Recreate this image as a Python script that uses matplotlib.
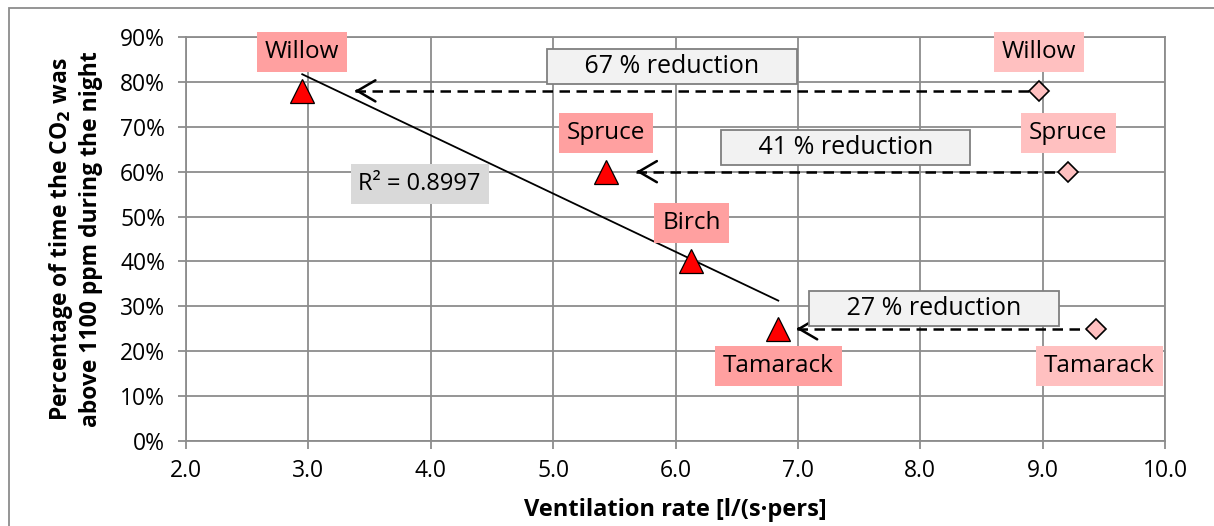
import numpy as np
import matplotlib
matplotlib.use("Agg")
import matplotlib.pyplot as plt
from matplotlib.patches import Rectangle

plt.rcParams['font.family'] = ['Open Sans', 'DejaVu Sans']

# ---------------- data ----------------
rooms = ["Willow", "Spruce", "Birch", "Tamarack"]
vent_before = [2.95, 5.43, 6.13, 6.84]        # l/(s*pers)
pct_before = [78, 60, 40, 25]                 # %
after_rooms = ["Willow", "Spruce", "Tamarack"]
vent_after = [8.97, 9.21, 9.44]
pct_after = [78, 60, 25]
reductions = ["67 % reduction", "41 % reduction", "27 % reduction"]
arrow_end_x = [3.38, 5.68, 6.99]
reduction_box_xy = [(5.97, 83.5), (7.39, 65.3), (8.11, 29.6)]
r2_text = "R² = 0.8997"
r2_xy = (3.91, 57.2)
x_ticks = [2.0, 3.0, 4.0, 5.0, 6.0, 7.0, 8.0, 9.0, 10.0]
y_ticks = [0, 10, 20, 30, 40, 50, 60, 70, 80, 90]

GRID = "#8c8c8c"
fig = plt.figure(figsize=(12.14, 5.26), dpi=100)
ax = fig.add_axes([186/1214, 1-441/526, (1165-186)/1214, (441-37)/526])

ax.set_xlim(2, 10)
ax.set_ylim(0, 90)
ax.set_xticks(x_ticks)
ax.set_xticklabels([f"{v:.1f}" for v in x_ticks])
ax.set_yticks(y_ticks)
ax.set_yticklabels([f"{v}%" for v in y_ticks])
ax.grid(True, color=GRID, lw=1.3)
ax.set_axisbelow(True)
for s in ax.spines.values():
    s.set_color(GRID)
    s.set_linewidth(1.3)
ax.tick_params(axis='both', colors=GRID, labelcolor='black', labelsize=16.5,
               length=6, width=1.3, direction='out')
ax.tick_params(axis='x', pad=7)
ax.tick_params(axis='y', pad=9)

ax.set_xlabel("Ventilation rate [l/(s·pers]", fontsize=17, fontweight='bold', labelpad=11)
ax.set_ylabel("Percentage of time the CO$_\\mathbf{2}$ was\nabove 1100 ppm during the night",
              fontsize=16.5, fontweight='bold', labelpad=12, linespacing=1.25)

# trend line
coef = np.polyfit(vent_before, pct_before, 1)
xs = np.array([min(vent_before), max(vent_before)])
ax.plot(xs, np.polyval(coef, xs), color='black', lw=1.3, zorder=3)

# arrows
for xa, ya, xe in zip(vent_after, pct_after, arrow_end_x):
    ax.plot([xe, xa], [ya, ya], color='black', lw=1.8, dashes=(4.2, 2.6), zorder=3)
    ax.annotate('', xy=(xe, ya), xytext=(xe + 0.02, ya),
                arrowprops=dict(arrowstyle='->,head_length=0.65,head_width=0.38',
                                lw=1.8, color='black', mutation_scale=20),
                zorder=3)

# markers
ax.plot(vent_before, pct_before, linestyle='none', marker='^', ms=17,
        mfc='#ff0000', mec='black', mew=0.9, zorder=5)
ax.plot(vent_after, pct_after, linestyle='none', marker='D', ms=10.5,
        mfc='#ffc0c0', mec='black', mew=1.2, zorder=5)

# labels
LBL = 17.5
for name, x, y in zip(rooms, vent_before, pct_before):
    dy = -27 if name == "Tamarack" else 28
    ax.annotate(name, xy=(x, y), xytext=(0, dy), textcoords='offset points',
                ha='center', va='center', fontsize=LBL, zorder=6,
                bbox=dict(boxstyle='square,pad=0.33', fc='#ffa0a0', ec='none'))
for name, x, y in zip(after_rooms, vent_after, pct_after):
    dy = -27 if name == "Tamarack" else 28
    dx = 2 if name == "Tamarack" else 0
    ax.annotate(name, xy=(x, y), xytext=(dx, dy), textcoords='offset points',
                ha='center', va='center', fontsize=LBL, zorder=6,
                bbox=dict(boxstyle='square,pad=0.33', fc='#ffc0c0', ec='none'))

for txt, (bx, by) in zip(reductions, reduction_box_xy):
    ax.text(bx, by, "     " + txt + "     ", ha='center', va='center', fontsize=18, zorder=6,
            bbox=dict(boxstyle='square,pad=0.2', fc='#f2f2f2', ec='#7f7f7f', lw=1.3))

ax.text(r2_xy[0], r2_xy[1], r2_text, ha='center', va='center', fontsize=17, zorder=6,
        bbox=dict(boxstyle='square,pad=0.33', fc='#d9d9d9', ec='none'))

# outer chart border
fig.patches.append(Rectangle((9/1214, -0.05), 1.1, 1 - 8/526 + 0.05,
                             transform=fig.transFigure, fill=False,
                             ec='#8c8c8c', lw=1.3))

fig.savefig("out.png", dpi=100)
